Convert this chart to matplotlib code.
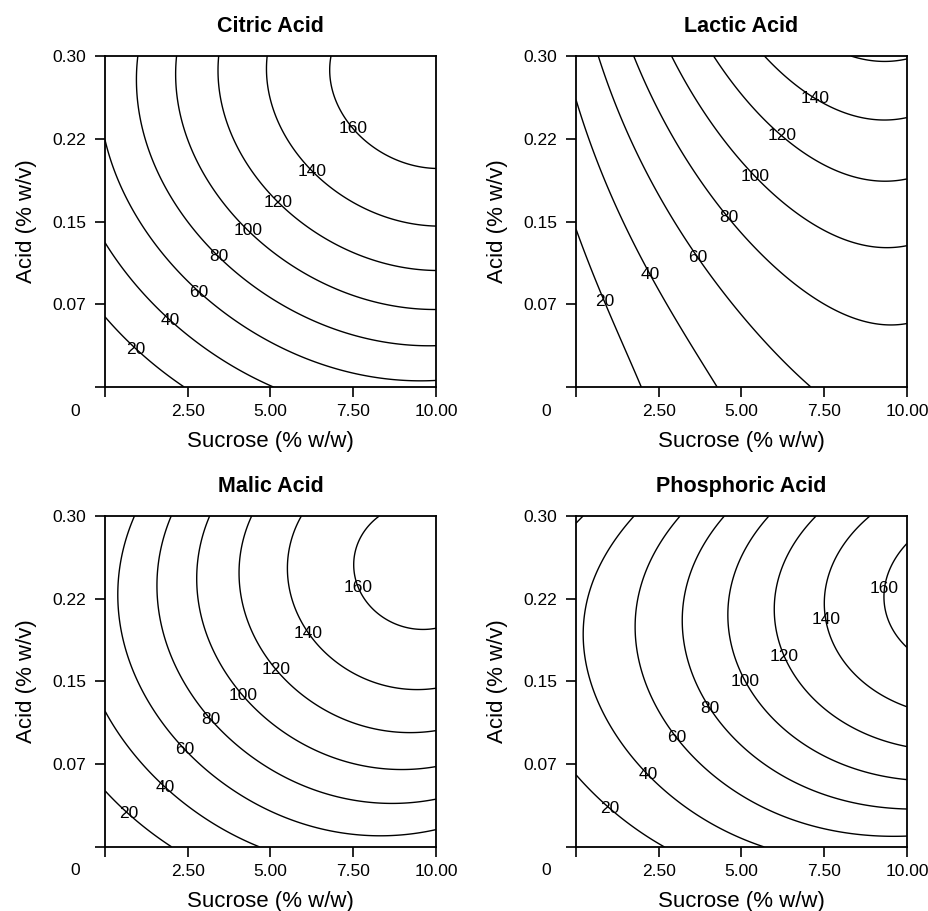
import numpy as np
import matplotlib
matplotlib.use("Agg")
import matplotlib.pyplot as plt

plt.rcParams['font.family'] = ['Liberation Sans', 'DejaVu Sans']

# Superficies de respuesta (modelo cubico en sacarosa x y acido u=10*y)
# terminos: 1, x, u, x^2, u^2, x*u, x^3, u^3, x^2*u, x*u^2
titulos = ["Citric Acid", "Lactic Acid", "Malic Acid", "Phosphoric Acid"]
coef_citric = [1.449, 7.3358, 26.824, 0.28915, 5.2497, 5.5585, -0.047553, -2.4814, -0.17975, -0.64004]
coef_lactic = [3.5945, 7.623, 6.2014, 0.46786, 4.4995, 3.5684, -0.059457, -0.58183, -0.22688, 0.12734]
coef_malic = [4.4711, 7.0892, 29.917, 0.44442, 2.4023, 5.7792, -0.071592, -2.6707, -0.11946, -0.68817]
coef_phosph = [3.5142, 5.0044, 25.781, 0.60168, 0.80844, 5.4086, -0.062149, -2.6173, 0.064743, -1.0665]
coeficientes = [coef_citric, coef_lactic, coef_malic, coef_phosph]

niveles = [20, 40, 60, 80, 100, 120, 140, 160]

x_ticks = [0, 2.5, 5, 7.5, 10]
x_labels = ["", "2.50", "5.00", "7.50", "10.00"]
y_ticks = [0, 0.075, 0.15, 0.225, 0.30]
y_labels = ["", "0.07", "0.15", "0.22", "0.30"]

# donde van las etiquetas de las curvas
etiquetas = [
    [(0.96, 0.035), (2.03, 0.062), (2.77, 0.0835), (3.45, 0.119), (4.33, 0.142), (5.21, 0.167), (6.26, 0.195), (7.50, 0.235)],
    [(0.84, 0.0775), (2.18, 0.1016), (3.79, 0.12), (4.56, 0.152), (5.40, 0.19), (6.23, 0.228), (7.26, 0.264)],
    [(0.735, 0.0308), (1.86, 0.0555), (2.40, 0.0886), (3.17, 0.115), (4.13, 0.136), (5.12, 0.160), (6.12, 0.193), (7.67, 0.235)],
    [(1.03, 0.035), (2.18, 0.066), (3.0, 0.0986), (3.99, 0.124), (5.05, 0.149), (6.23, 0.172), (7.48, 0.206), (9.06, 0.235)],
]


def superficie(c, x, y):
    u = 10 * y
    return (c[0] + c[1]*x + c[2]*u + c[3]*x**2 + c[4]*u**2 + c[5]*x*u
            + c[6]*x**3 + c[7]*u**3 + c[8]*x**2*u + c[9]*x*u**2)


X, Y = np.meshgrid(np.linspace(0, 10, 301), np.linspace(0, 0.3, 301))

fig = plt.figure(figsize=(9.29, 9.11), dpi=100)
posiciones = [(0.113, 0.5752), (0.620, 0.5752), (0.113, 0.0703), (0.620, 0.0703)]

for titulo, c, pos, etq in zip(titulos, coeficientes, posiciones, etiquetas):
    ax = fig.add_axes([pos[0], pos[1], 0.3563, 0.3633])
    Z = superficie(c, X, Y)
    cs = ax.contour(X, Y, Z, levels=niveles, colors='k', linewidths=1.0)
    textos = ax.clabel(cs, inline=False, fontsize=12.5, fmt='%d', manual=etq)
    for t in textos:
        t.set_rotation(0)

    ax.set_xlim(0, 10)
    ax.set_ylim(0, 0.3)
    ax.set_xticks(x_ticks)
    ax.set_xticklabels(x_labels)
    ax.set_yticks(y_ticks)
    ax.set_yticklabels(y_labels)
    ax.tick_params(direction='out', length=7.2, width=1.2, labelsize=12.5)
    ax.tick_params(axis='x', pad=5)
    ax.tick_params(axis='y', pad=6.5)
    for s in ax.spines.values():
        s.set_linewidth(1.3)

    ax.set_title(titulo, fontsize=15.5, fontweight='bold', pad=17)
    ax.set_xlabel("Sucrose (% w/w)", fontsize=16, labelpad=9)
    ax.set_ylabel("Acid (% w/v)", fontsize=16, labelpad=11)
    ax.annotate("0", xy=(0, 0), xycoords='data', xytext=(-21.6, -17.3),
                textcoords='offset points', ha='center', va='center',
                fontsize=12.5, annotation_clip=False)

fig.savefig("out.png")
